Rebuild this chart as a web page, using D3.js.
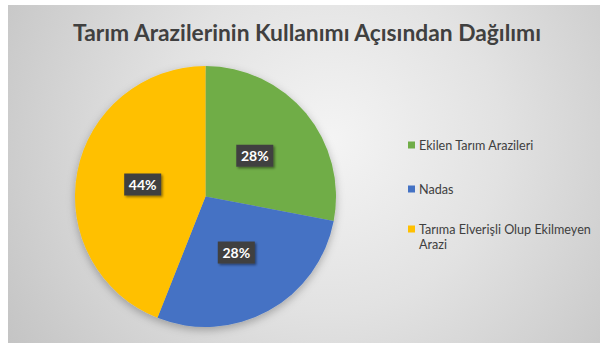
<!DOCTYPE html>
<html>
<head>
<meta charset="utf-8">
<script src="https://cdn.jsdelivr.net/npm/d3@7"></script>
<style>
  html, body { margin: 0; padding: 0; background: #ffffff; }
  svg { display: block; }
</style>
</head>
<body>
<svg id="chart" width="600" height="343"></svg>
<script>
// Land-use distribution of agricultural areas
const categories = ["Ekilen Tarım Arazileri", "Nadas", "Tarıma Elverişli Olup Ekilmeyen Arazi"];
const shares = [28, 28, 44];
const sliceColors = ["#70ad47", "#4472c4", "#ffc000"];
const titleText = "Tarım Arazilerinin Kullanımı Açısından Dağılımı";

const svg = d3.select("#chart");
const W = 600, H = 343;
const font = "Lato, 'Open Sans', sans-serif";

const defs = svg.append("defs");

// soft radial backdrop
const bg = defs.append("radialGradient")
  .attr("id", "bgGrad")
  .attr("gradientUnits", "userSpaceOnUse")
  .attr("cx", 330).attr("cy", 140).attr("r", 380);
bg.append("stop").attr("offset", "0%").attr("stop-color", "#f4f4f4");
bg.append("stop").attr("offset", "45%").attr("stop-color", "#e2e2e2");
bg.append("stop").attr("offset", "100%").attr("stop-color", "#c4c4c4");

// drop shadows for the pie and the value boxes
const pieShadow = defs.append("filter").attr("id", "pieShadow")
  .attr("x", "-20%").attr("y", "-20%").attr("width", "140%").attr("height", "140%");
pieShadow.append("feDropShadow")
  .attr("dx", 0).attr("dy", 3).attr("stdDeviation", 4)
  .attr("flood-color", "#000").attr("flood-opacity", 0.28);

const boxShadow = defs.append("filter").attr("id", "boxShadow")
  .attr("x", "-30%").attr("y", "-30%").attr("width", "160%").attr("height", "160%");
boxShadow.append("feDropShadow")
  .attr("dx", 1.5).attr("dy", 1.5).attr("stdDeviation", 1.2)
  .attr("flood-color", "#000").attr("flood-opacity", 0.45);

svg.append("rect")
  .attr("x", 8).attr("y", 5)
  .attr("width", W - 8).attr("height", H - 5)
  .attr("fill", "url(#bgGrad)");

// title
svg.append("text")
  .attr("x", 307).attr("y", 41)
  .attr("text-anchor", "middle")
  .attr("font-family", font)
  .attr("font-weight", "bold")
  .attr("font-size", 22.8)
  .attr("fill", "#404040")
  .text(titleText);

// pie
const cx = 205.5, cy = 196.5, R = 130.5;
const data = categories.map((c, i) => ({ name: c, value: shares[i], color: sliceColors[i] }));
const pie = d3.pie().sort(null).value(d => d.value);
const arcs = pie(data);
const arc = d3.arc().innerRadius(0).outerRadius(R);
const labelArc = d3.arc().innerRadius(0).outerRadius(R * 0.98);

const g = svg.append("g").attr("transform", `translate(${cx},${cy})`);
g.append("g").attr("filter", "url(#pieShadow)")
  .selectAll("path")
  .data(arcs)
  .join("path")
  .attr("d", arc)
  .attr("fill", d => d.data.color);

const total = d3.sum(shares);
const labels = g.selectAll("g.lbl")
  .data(arcs)
  .join("g")
  .attr("class", "lbl")
  .attr("transform", d => `translate(${labelArc.centroid(d)})`);

labels.append("rect")
  .attr("x", -18.5).attr("y", -11)
  .attr("width", 37).attr("height", 22)
  .attr("fill", "#404040")
  .attr("filter", "url(#boxShadow)");

labels.append("text")
  .attr("text-anchor", "middle")
  .attr("dy", "0.36em")
  .attr("font-family", font)
  .attr("font-weight", "bold")
  .attr("font-size", 14)
  .attr("fill", "#ffffff")
  .text(d => Math.round(d.data.value / total * 100) + "%");

// legend
const legendRows = [
  { y: 145, lines: ["Ekilen Tarım Arazileri"] },
  { y: 189, lines: ["Nadas"] },
  { y: 229, lines: ["Tarıma Elverişli Olup Ekilmeyen", "Arazi"] }
];
const legend = svg.append("g")
  .selectAll("g")
  .data(data)
  .join("g")
  .attr("transform", (d, i) => `translate(408,${legendRows[i].y})`);

legend.append("rect")
  .attr("x", 0).attr("y", -3.5)
  .attr("width", 7).attr("height", 7)
  .attr("fill", d => d.color);

legend.append("text")
  .attr("font-family", font)
  .attr("font-size", 12.6)
  .attr("fill", "#404040")
  .each(function (d, i) {
    const t = d3.select(this);
    legendRows[i].lines.forEach((ln, j) => {
      t.append("tspan")
        .attr("x", 11)
        .attr("y", 4.5 + j * 15)
        .text(ln);
    });
  });
</script>
</body>
</html>
